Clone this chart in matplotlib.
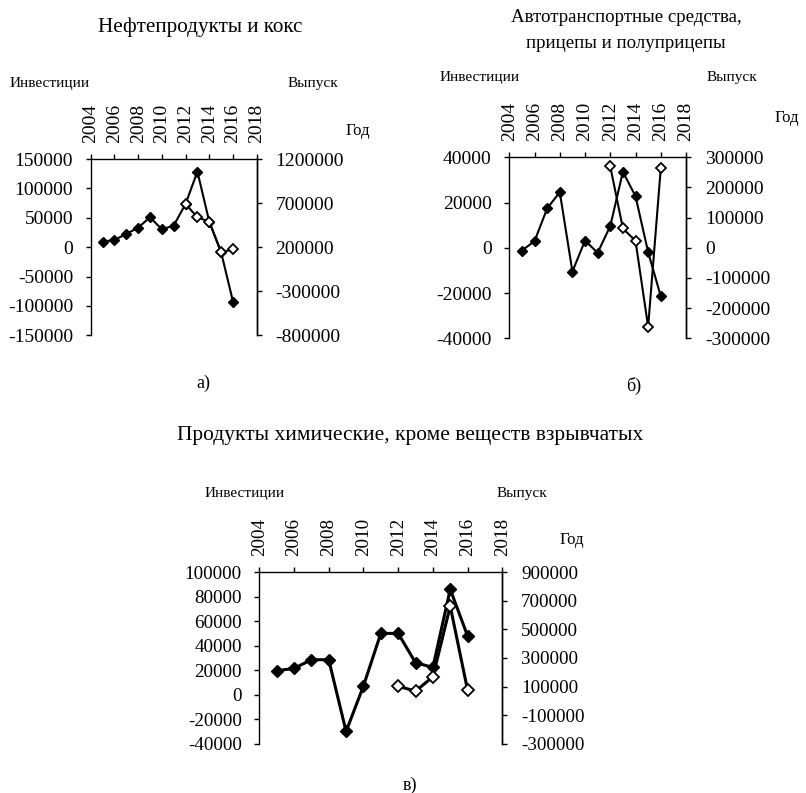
import matplotlib
matplotlib.use("Agg")
import matplotlib.pyplot as plt
from matplotlib.ticker import FixedLocator

plt.rcParams['font.family'] = ['Liberation Serif', 'DejaVu Serif']

W, H = 806, 793

# --- data -------------------------------------------------------------
year_ticks = [2004, 2006, 2008, 2010, 2012, 2014, 2016, 2018]

# Нефтепродукты и кокс
years_a_inv = [2005, 2006, 2007, 2008, 2009, 2010, 2011, 2012, 2013, 2014, 2015, 2016]
inv_a = [9400, 12200, 22400, 33200, 50800, 30400, 36700, 73500, 128500, 43400, -8700, -92600]
years_a_out = [2012, 2013, 2014, 2015, 2016]
out_a = [690000, 538000, 489000, 141000, 175000]

# Автотранспортные средства, прицепы и полуприцепы
years_b_inv = [2005, 2006, 2007, 2008, 2009, 2010, 2011, 2012, 2013, 2014, 2015, 2016]
inv_b = [-1200, 2950, 17400, 24600, -10500, 3200, -2200, 9600, 33600, 22800, -1900, -21400]
years_b_out = [2012, 2013, 2014, 2015, 2016]
out_b = [270000, 64000, 23000, -262000, 263000]

# Продукты химические, кроме веществ взрывчатых
years_c_inv = [2005, 2006, 2007, 2008, 2009, 2010, 2011, 2012, 2013, 2014, 2015, 2016]
inv_c = [19600, 21500, 28600, 28600, -30000, 7100, 50100, 50100, 26200, 22300, 86100, 48000]
years_c_out = [2012, 2013, 2014, 2015, 2016]
out_c = [102800, 67800, 168000, 663000, 74800]

left_ticks_a = [-150000, -100000, -50000, 0, 50000, 100000, 150000]
right_ticks_a = [-800000, -300000, 200000, 700000, 1200000]
left_ticks_b = [-40000, -20000, 0, 20000, 40000]
right_ticks_b = [-300000, -200000, -100000, 0, 100000, 200000, 300000]
left_ticks_c = [-40000, -20000, 0, 20000, 40000, 60000, 80000, 100000]
right_ticks_c = [-300000, -100000, 100000, 300000, 500000, 700000, 900000]

FS = 11      # axis captions
TFS = 14     # tick labels

fig = plt.figure(figsize=(W / 100, H / 100), dpi=100)


def px_axes(left, top, right, bottom):
    return fig.add_axes([left / W, 1 - bottom / H, (right - left) / W, (bottom - top) / H])


def ftext(x, y, s, **kw):
    kw.setdefault('fontsize', FS)
    fig.text(x / W, 1 - y / H, s, **kw)


def panel(box, yi, vi, yo, vo, lt, rt, lw=1.5, ms=5.2, tfs=TFS):
    ax = px_axes(*box)
    ax.set_xlim(2004, 2018)
    ax.set_ylim(lt[0], lt[-1])
    ax.yaxis.set_major_locator(FixedLocator(lt))
    ax.set_yticklabels([str(v) for v in lt])
    ax.xaxis.set_major_locator(FixedLocator(year_ticks))
    ax.xaxis.tick_top()
    ax.set_xticklabels([str(v) for v in year_ticks], rotation=90)
    ax.spines['bottom'].set_visible(False)
    for s in ('left', 'top', 'right'):
        ax.spines[s].set_linewidth(1.0)
    ax.tick_params(axis='y', direction='out', length=3.6, width=1, pad=9, labelsize=tfs)
    ax.tick_params(axis='x', direction='out', length=3.6, width=1, pad=8, labelsize=tfs)
    ax.plot(yi, vi, color='black', lw=lw, marker='D', ms=ms,
            mfc='black', mec='black', clip_on=False, zorder=3)

    ax2 = ax.twinx()
    ax2.set_ylim(rt[0], rt[-1])
    ax2.yaxis.set_major_locator(FixedLocator(rt))
    ax2.set_yticklabels([str(v) for v in rt])
    ax2.spines['bottom'].set_visible(False)
    ax2.spines['top'].set_visible(False)
    ax2.spines['left'].set_visible(False)
    ax2.spines['right'].set_linewidth(1.0)
    ax2.tick_params(axis='y', direction='out', length=3.6, width=1, pad=10, labelsize=tfs)
    ax2.plot(yo, vo, color='black', lw=lw, marker='D', ms=ms,
             mfc='white', mec='black', mew=1.3, clip_on=False, zorder=3)
    return ax, ax2


# а)
panel((90.7, 159, 256.7, 335.3), years_a_inv, inv_a, years_a_out, out_a,
      left_ticks_a, right_ticks_a)
ftext(200, 27, 'Нефтепродукты и кокс', ha='center', va='center', fontsize=15.2)
ftext(10, 84, 'Инвестиции', ha='left', va='center')
ftext(288, 84, 'Выпуск', ha='left', va='center')
ftext(346, 131, 'Год', ha='left', va='center', fontsize=12)
ftext(203, 383, 'а)', ha='center', va='center', fontsize=13)

# б)
panel((509.3, 157.3, 686, 338.3), years_b_inv, inv_b, years_b_out, out_b,
      left_ticks_b, right_ticks_b)
ftext(626, 18, 'Автотранспортные средства,', ha='center', va='center', fontsize=13.6)
ftext(626, 43, 'прицепы и полуприцепы', ha='center', va='center', fontsize=13.6)
ftext(440, 77, 'Инвестиции', ha='left', va='center')
ftext(707, 77, 'Выпуск', ha='left', va='center')
ftext(775, 118, 'Год', ha='left', va='center', fontsize=12)
ftext(634, 386, 'б)', ha='center', va='center', fontsize=13)

# в)
panel((259.3, 572.3, 502.3, 743.7), years_c_inv, inv_c, years_c_out, out_c,
      left_ticks_c, right_ticks_c, lw=2.2, ms=5.8, tfs=13.7)
ftext(410, 435, 'Продукты химические, кроме веществ взрывчатых', ha='center', va='center', fontsize=15.4)
ftext(205, 493, 'Инвестиции', ha='left', va='center')
ftext(497, 493, 'Выпуск', ha='left', va='center')
ftext(560, 540, 'Год', ha='left', va='center', fontsize=12)
ftext(410, 785, 'в)', ha='center', va='center', fontsize=13)

fig.savefig('out.png', dpi=100, facecolor='white')
